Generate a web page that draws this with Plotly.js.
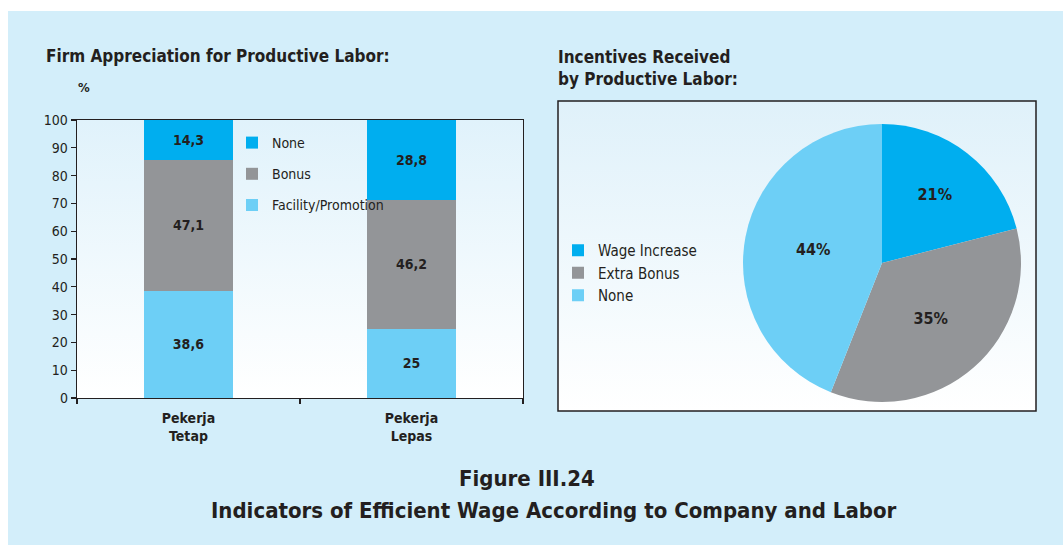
<!DOCTYPE html>
<html>
<head>
<meta charset="utf-8">
<script src="https://cdn.plot.ly/plotly-3.0.1.min.js"></script>
<style>
  html, body { margin: 0; padding: 0; background: #ffffff; }
  #chart { position: absolute; left: 8px; top: 11px; width: 1055px; height: 534px; }
</style>
</head>
<body>
<div id="chart"></div>
<script>
// ---- data ----
const barCategories = ['Pekerja<br>Tetap', 'Pekerja<br>Lepas'];
const facilityPromotion = [38.6, 25];
const bonus = [47.1, 46.2];
const none = [14.3, 28.8];
const barSeriesNames = ['Facility/Promotion', 'Bonus', 'None'];

const pieLabels = ['Wage Increase', 'Extra Bonus', 'None'];
const pieValues = [21, 35, 44];

const yTickValues = [0, 10, 20, 30, 40, 50, 60, 70, 80, 90, 100];

// ---- styling ----
const W = 1055, H = 534, OX = 8, OY = 11;
const px = x => (x - OX) / W;
const py = y => 1 - (y - OY) / H;
const FONT = '"DejaVu Sans Condensed", "Open Sans", sans-serif';
const TXT = '#231f20';
const C_NONE = '#00aeef', C_BONUS = '#939598', C_FAC = '#6dcff6';

const fmt = v => String(v).replace('.', ',');

function gradient(top, bottom) {
  const svg = '<svg xmlns="http://www.w3.org/2000/svg" width="10" height="100" preserveAspectRatio="none">' +
    '<defs><linearGradient id="g" x1="0" y1="0" x2="0" y2="1">' +
    '<stop offset="0" stop-color="' + top + '"/><stop offset="1" stop-color="' + bottom + '"/></linearGradient></defs>' +
    '<rect width="10" height="100" fill="url(#g)"/></svg>';
  return 'data:image/svg+xml;base64,' + btoa(svg);
}

const barCommon = {
  type: 'bar', x: barCategories, xaxis: 'x', yaxis: 'y',
  textposition: 'inside', insidetextanchor: 'middle', textangle: 0,
  textfont: { family: FONT, size: 14, color: TXT, weight: 'bold' },
  hoverinfo: 'skip', legend: 'legend', marker: { line: { width: 0 } }
};

const traces = [
  Object.assign({}, barCommon, { name: barSeriesNames[0], y: facilityPromotion, text: facilityPromotion.map(fmt), marker: { color: C_FAC }, legendgroup: 'a', legendrank: 3 }),
  Object.assign({}, barCommon, { name: barSeriesNames[1], y: bonus, text: bonus.map(fmt), marker: { color: C_BONUS }, legendgroup: 'b', legendrank: 2 }),
  Object.assign({}, barCommon, { name: barSeriesNames[2], y: none, text: none.map(fmt), marker: { color: C_NONE }, legendgroup: 'c', legendrank: 1 }),
  {
    type: 'pie', labels: pieLabels, values: pieValues, sort: false, direction: 'clockwise', rotation: 0,
    marker: { colors: [C_NONE, C_BONUS, C_FAC], line: { width: 0 } },
    texttemplate: '%{value}%', textposition: 'inside', insidetextorientation: 'horizontal',
    textfont: { family: FONT, size: 16, color: TXT, weight: 'bold' },
    domain: { x: [px(743), px(1021)], y: [py(402), py(124)] },
    legend: 'legend2', hoverinfo: 'skip'
  }
];

const layout = {
  width: W, height: H,
  margin: { l: 0, r: 0, t: 0, b: 0 },
  paper_bgcolor: '#d3eefa',
  plot_bgcolor: 'rgba(0,0,0,0)',
  font: { family: FONT, color: TXT },
  barmode: 'stack', bargap: 0.6,
  showlegend: true,
  xaxis: {
    domain: [px(77), px(523)], range: [-0.5, 1.5], type: 'category',
    showline: true, mirror: true, linecolor: TXT, linewidth: 1.3,
    ticks: 'outside', tickson: 'boundaries', ticklen: 5, tickcolor: TXT, tickwidth: 1.3,
    ticklabelstandoff: 7,
    tickfont: { family: FONT, size: 14, color: TXT, weight: 'bold' },
    showgrid: false, fixedrange: true
  },
  yaxis: {
    domain: [py(398), py(120)], range: [0, 100], tickvals: yTickValues,
    showline: true, mirror: true, linecolor: TXT, linewidth: 1.3,
    ticks: 'outside', ticklen: 5, tickcolor: TXT, tickwidth: 1.3,
    tickfont: { family: FONT, size: 14, color: TXT },
    showgrid: false, zeroline: false, fixedrange: true
  },
  legend: {
    x: px(232), y: py(127), xanchor: 'left', yanchor: 'top',
    bgcolor: 'rgba(0,0,0,0)', traceorder: 'grouped', tracegroupgap: 10,
    font: { family: FONT, size: 14, color: TXT }, itemclick: false, itemdoubleclick: false
  },
  legend2: {
    x: px(558), y: py(234), xanchor: 'left', yanchor: 'top',
    bgcolor: 'rgba(0,0,0,0)', traceorder: 'normal',
    font: { family: FONT, size: 15, color: TXT }, itemclick: false, itemdoubleclick: false
  },
  images: [
    { source: gradient('#e0f2fb', '#ffffff'), xref: 'paper', yref: 'paper',
      x: px(77), y: py(120), sizex: px(523) - px(77), sizey: py(120) - py(398),
      sizing: 'stretch', layer: 'below', xanchor: 'left', yanchor: 'top' },
    { source: gradient('#dff1fa', '#ffffff'), xref: 'paper', yref: 'paper',
      x: px(558), y: py(101), sizex: px(1036) - px(558), sizey: py(101) - py(411),
      sizing: 'stretch', layer: 'below', xanchor: 'left', yanchor: 'top' }
  ],
  shapes: [
    { type: 'rect', xref: 'paper', yref: 'paper', x0: px(558), x1: px(1036), y0: py(411), y1: py(101),
      line: { color: TXT, width: 1.5 }, fillcolor: 'rgba(0,0,0,0)', layer: 'below' }
  ],
  annotations: [
    { text: 'Firm Appreciation for Productive Labor:', xref: 'paper', yref: 'paper', x: px(44), y: py(56),
      xanchor: 'left', yanchor: 'middle', showarrow: false, font: { family: FONT, size: 17, color: TXT, weight: 'bold' } },
    { text: '%', xref: 'paper', yref: 'paper', x: px(84), y: py(87),
      xanchor: 'center', yanchor: 'middle', showarrow: false, font: { family: FONT, size: 13, color: TXT, weight: 'bold' } },
    { text: 'Incentives Received<br>by Productive Labor:', xref: 'paper', yref: 'paper', x: px(556), y: py(68),
      xanchor: 'left', yanchor: 'middle', align: 'left', showarrow: false, font: { family: FONT, size: 17, color: TXT, weight: 'bold' } },
    { text: 'Figure III.24', xref: 'paper', yref: 'paper', x: px(527), y: py(478),
      xanchor: 'center', yanchor: 'middle', showarrow: false, font: { family: FONT, size: 22, color: TXT, weight: 'bold' } },
    { text: 'Indicators of Efficient Wage According to Company and Labor', xref: 'paper', yref: 'paper', x: px(554), y: py(510),
      xanchor: 'center', yanchor: 'middle', showarrow: false, font: { family: FONT, size: 22, color: TXT, weight: 'bold' } }
  ]
};

Plotly.newPlot('chart', traces, layout, { displayModeBar: false, staticPlot: true });
</script>
</body>
</html>
